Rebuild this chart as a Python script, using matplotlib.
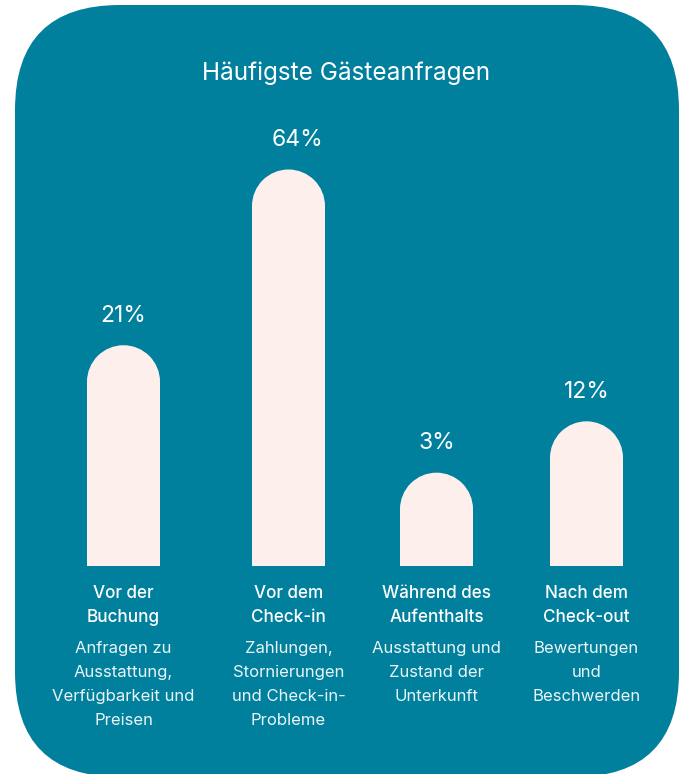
import matplotlib
matplotlib.use("Agg")
import matplotlib.pyplot as plt
from matplotlib.patches import FancyBboxPatch, Ellipse

# ---- data ----
title = "Häufigste Gästeanfragen"
categories = ["Vor der\nBuchung", "Vor dem\nCheck-in", "Während des\nAufenthalts", "Nach dem\nCheck-out"]
descriptions = ["Anfragen zu\nAusstattung,\nVerfügbarkeit und\nPreisen",
                "Zahlungen,\nStornierungen\nund Check-in-\nProbleme",
                "Ausstattung und\nZustand der\nUnterkunft",
                "Bewertungen\nund\nBeschwerden"]
values = [21, 64, 3, 12]
value_labels = ["21%", "64%", "3%", "12%"]
# drawn bar heights as they appear (the infographic is not drawn to scale)
bar_heights = [35.6, 64, 15.0, 23.3]

# ---- layout ----
W, H = 680, 774
teal = "#00809D"
bar_color = "#FDF0EC"
FONT = "Inter"
x_pos = [123.5, 288.5, 436.5, 586.5]
label_dx = [0, 9, 0, 0]
bar_w = 73
px_per_unit = 396 / 64.0
base_px = 565.5
axes_h_px = 430

fig = plt.figure(figsize=(W / 100, H / 100), dpi=100)
fig.patch.set_facecolor("white")

bg = fig.add_axes([0, 0, 1, 1])
bg.set_xlim(0, W)
bg.set_ylim(H, 0)
bg.axis("off")
R = 105
bg.add_patch(FancyBboxPatch((15 + R, 5 + R), 664 - 2 * R, 772 - 2 * R,
                            boxstyle=f"round,pad={R}", fc=teal, ec="none"))

bg.text(346, 73, title, ha="center", va="center", color="white",
        fontsize=17.5, family=FONT, fontweight="normal")

ax = fig.add_axes([0, (H - base_px) / H, 1, axes_h_px / H])
ax.set_xlim(0, W)
ax.set_ylim(0, axes_h_px / px_per_unit)
ax.axis("off")
ax.patch.set_alpha(0)

r_units = (bar_w / 2) / px_per_unit
for x, h in zip(x_pos, bar_heights):
    ax.bar(x, h - r_units, width=bar_w, color=bar_color, linewidth=0)
    ax.add_patch(Ellipse((x, h - r_units), bar_w, 2 * r_units, fc=bar_color, ec="none"))

for x, dx, h, lab in zip(x_pos, label_dx, bar_heights, value_labels):
    top_px = base_px - h * px_per_unit
    bg.text(x + dx, top_px - 29.5, lab, ha="center", va="center", color="white",
            fontsize=16.5, family=FONT, fontweight="normal")

for x, cat, desc in zip(x_pos, categories, descriptions):
    for i, line in enumerate(cat.split("\n")):
        bg.text(x, 594 + i * 24, line, ha="center", va="center", color="white",
                fontsize=12.3, family=FONT, fontweight="medium")
    for i, line in enumerate(desc.split("\n")):
        bg.text(x, 649 + i * 23.7, line, ha="center", va="center", color="#EAF5F8",
                fontsize=12, family=FONT, fontweight="normal")

fig.savefig("out.png", dpi=100, facecolor="white")
